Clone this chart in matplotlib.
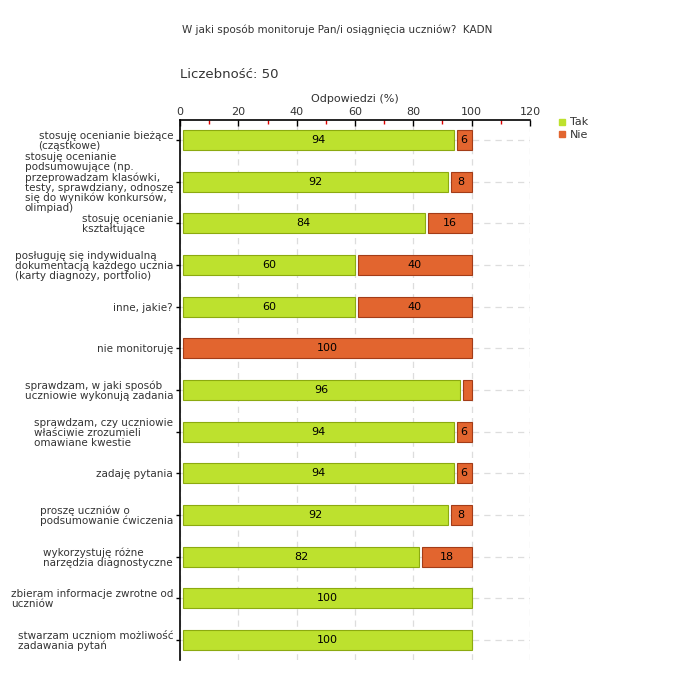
import numpy as np
import matplotlib
matplotlib.use('Agg')
import matplotlib.pyplot as plt
from matplotlib.lines import Line2D
from matplotlib.ticker import MultipleLocator

plt.rcParams.update({'font.family': 'DejaVu Sans', 'font.size': 8})

categories = [
    'stosuję ocenianie bieżące\n(cząstkowe)',
    'stosuję ocenianie\npodsumowujące (np.\nprzeprowadzam klasówki,\ntesty, sprawdziany, odnoszę\nsię do wyników konkursów,\nolimpiad)',
    'stosuję ocenianie\nkształtujące',
    'posługuję się indywidualną\ndokumentacją każdego ucznia\n(karty diagnozy, portfolio)',
    'inne, jakie?',
    'nie monitoruję',
    'sprawdzam, w jaki sposób\nuczniowie wykonują zadania',
    'sprawdzam, czy uczniowie\nwłaściwie zrozumieli\nomawiane kwestie',
    'zadaję pytania',
    'proszę uczniów o\npodsumowanie ćwiczenia',
    'wykorzystuję różne\nnarzędzia diagnostyczne',
    'zbieram informacje zwrotne od\nuczniów',
    'stwarzam uczniom możliwość\nzadawania pytań',
]
tak = [94, 92, 84, 60, 60, 0, 96, 94, 94, 92, 82, 100, 100]
nie = [6, 8, 16, 40, 40, 100, 4, 6, 6, 8, 18, 0, 0]

title = 'W jaki sposób monitoruje Pan/i osiągnięcia uczniów?  KADN'
count_label = 'Liczebność: 50'

tak_color, tak_edge = '#BDE12E', '#8CAA10'
nie_color, nie_edge = '#E2652F', '#A33C18'

fig = plt.figure(figsize=(6.8, 6.8), dpi=100)
ax = fig.add_axes([180 / 680, 20 / 680, 350 / 680, 540 / 680])

y = np.arange(len(categories))
h = 0.48
gap = 0.9  # visual gap between segments, in % units

tak = np.array(tak)
nie = np.array(nie)
mask_t = tak > 0
ax.barh(y[mask_t], tak[mask_t] - gap, left=gap, height=h, color=tak_color,
        edgecolor=tak_edge, linewidth=0.8, zorder=3)
mask_n = nie > 0
ax.barh(y[mask_n], nie[mask_n] - gap, left=tak[mask_n] + gap, height=h,
        color=nie_color, edgecolor=nie_edge, linewidth=0.8, zorder=3)

for yi, t, n in zip(y, tak, nie):
    if t > 0:
        ax.text(t / 2 + gap / 2, yi, str(t), ha='center', va='center', fontsize=8, zorder=4)
    if n >= 5:
        ax.text(t + n / 2 + gap / 2, yi, str(n), ha='center', va='center', fontsize=8, zorder=4)

ax.set_xlim(0, 120)
ax.set_ylim(len(categories) - 1 + 0.48, -0.48)
ax.xaxis.tick_top()
ax.xaxis.set_label_position('top')
ax.xaxis.set_major_locator(MultipleLocator(20))
ax.xaxis.set_minor_locator(MultipleLocator(10))
ax.tick_params(axis='x', which='major', length=4, width=1, color='black',
               labelsize=8, labelcolor='#333333', pad=2, direction='in')
ax.tick_params(axis='x', which='minor', length=3, width=1, color='#DD0000', direction='in')
ax.set_xlabel('Odpowiedzi (%)', fontsize=8, color='#333333', labelpad=4)

ax.set_yticks(y)
ax.set_yticklabels(categories, fontsize=7.5, color='#333333', linespacing=1.0)
for lbl in ax.get_yticklabels():
    lbl.set_multialignment('left')
ax.tick_params(axis='y', length=3, width=1, color='black', pad=2)

ax.grid(True, which='major', color='#DDDDDD', linestyle=(0, (5, 4)), linewidth=0.9, zorder=0)
ax.set_axisbelow(True)
for s in ['right', 'bottom']:
    ax.spines[s].set_visible(False)
ax.spines['top'].set_linewidth(1.2)
ax.spines['left'].set_linewidth(1.2)

fig.text(182 / 680, 1 - 30 / 680, title, fontsize=7.5, color='#333333', va='center')
fig.text(180 / 680, 1 - 75 / 680, count_label, fontsize=9.5, color='#333333', va='center')

handles = [
    Line2D([0], [0], marker='s', linestyle='none', markersize=5,
           markerfacecolor=tak_color, markeredgecolor=tak_color, label='Tak'),
    Line2D([0], [0], marker='s', linestyle='none', markersize=5,
           markerfacecolor=nie_color, markeredgecolor=nie_color, label='Nie'),
]
fig.legend(handles=handles, loc='upper left', bbox_to_anchor=(552 / 680, 1 - 113 / 680),
           frameon=False, fontsize=8, handletextpad=0.2, labelspacing=0.2,
           handlelength=1.0, borderaxespad=0, labelcolor='#333333')

fig.savefig('out.png', dpi=100)
